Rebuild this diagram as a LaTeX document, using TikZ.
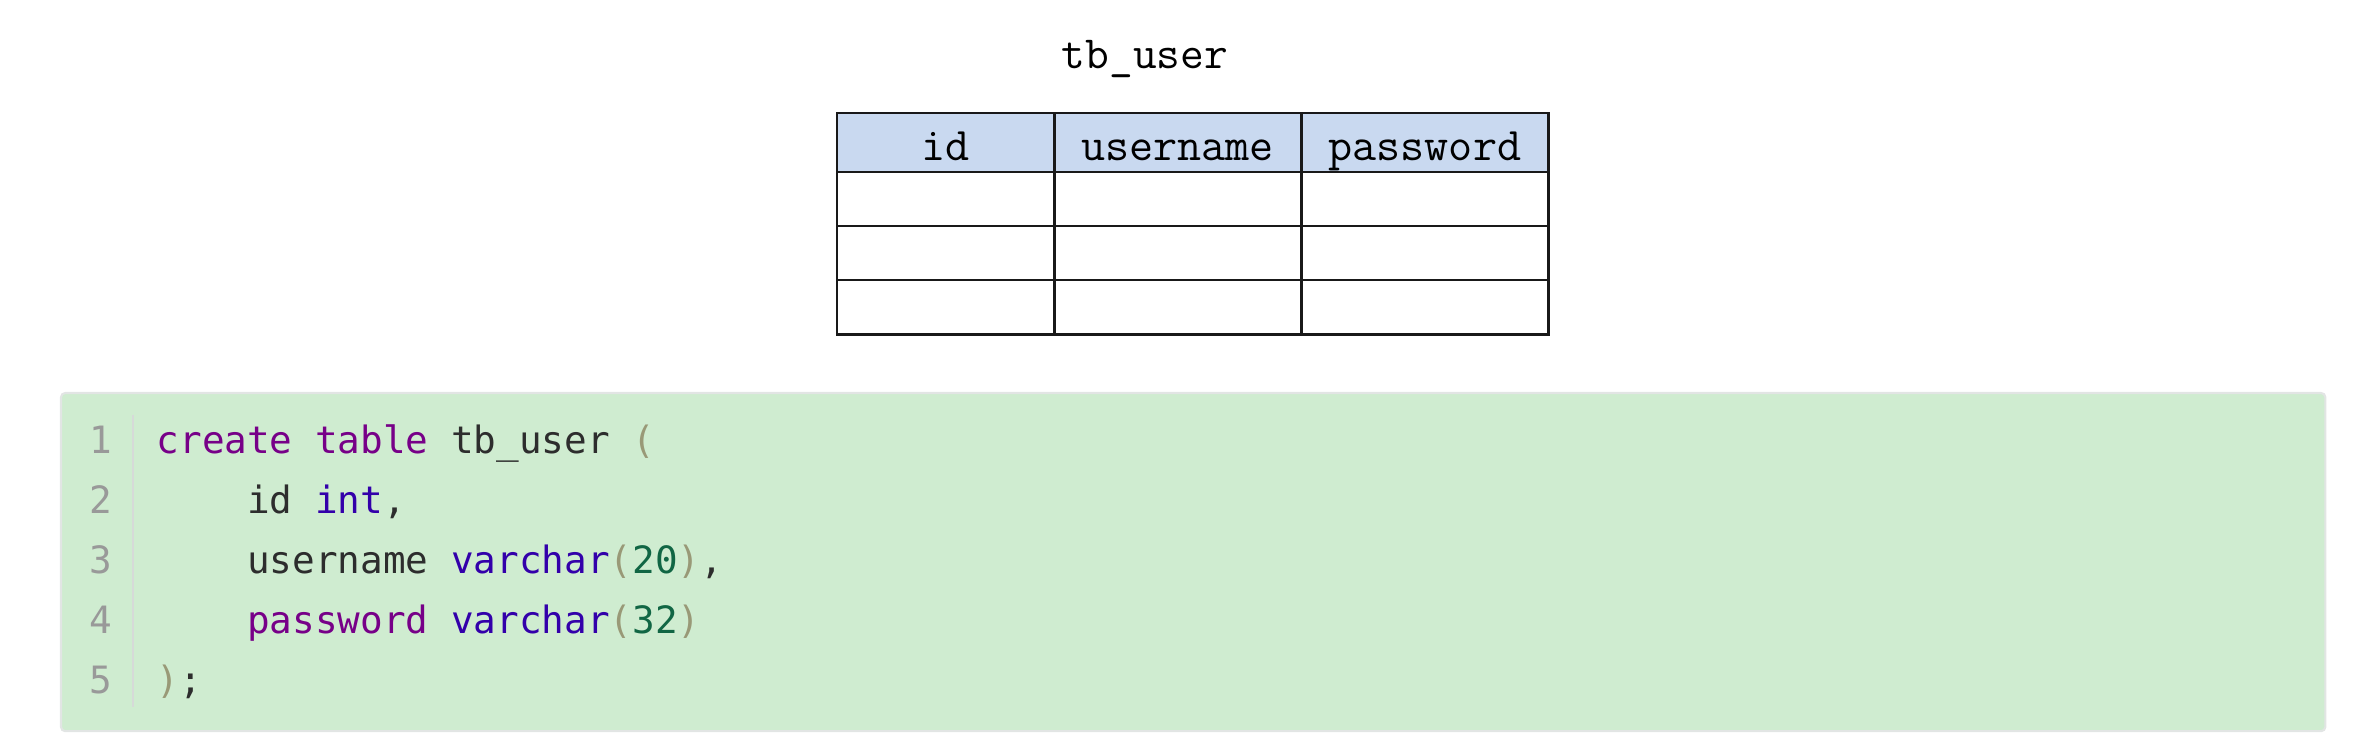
\documentclass[tikz,border=0pt]{standalone}
\usepackage{fontspec}
\newfontfamily\codefont{DejaVu Sans Mono}
\usetikzlibrary{positioning}
\definecolor{headblue}{RGB}{201,217,240}
\definecolor{tableline}{RGB}{25,25,25}
\definecolor{codegreen}{RGB}{207,236,208}
\definecolor{codeborder}{RGB}{226,229,228}
\definecolor{guttergray}{RGB}{214,218,216}
\definecolor{linegray}{RGB}{153,153,153}
\definecolor{codetext}{RGB}{45,45,45}
\definecolor{kwpurple}{RGB}{119,0,136}
\definecolor{bipurple}{RGB}{51,0,170}
\definecolor{numgreen}{RGB}{17,102,68}
\definecolor{brgray}{RGB}{153,153,119}
\newcommand{\sqlkw}[1]{\textcolor{kwpurple}{#1}}
\newcommand{\sqlbi}[1]{\textcolor{bipurple}{#1}}
\newcommand{\sqlnum}[1]{\textcolor{numgreen}{#1}}
\newcommand{\sqlbr}[1]{\textcolor{brgray}{#1}}
\tikzset{head/.style={draw=tableline, fill=headblue, line width=0.8pt, inner sep=0pt, outer sep=0pt,
           minimum height=0.59cm, text height=0.4cm, text depth=0.05cm,
           font=\ttfamily\fontsize{13.3pt}{15pt}\selectfont},
         cell/.style={draw=tableline, line width=0.8pt, inner sep=0pt, outer sep=0pt, minimum height=0.54cm},
         tabtitle/.style={anchor=base, inner sep=0pt, font=\ttfamily\fontsize{13.1pt}{15pt}\selectfont},
         codebox/.style={draw=codeborder, fill=codegreen, line width=0.6pt, rounded corners=1.2pt,
           inner sep=0pt, outer sep=0pt},
         lineno/.style={anchor=base east, inner sep=0pt, text=linegray, font=\codefont\fontsize{10.7pt}{12pt}\selectfont},
         codeline/.style={anchor=base west, inner sep=0pt, text=codetext, font=\codefont\fontsize{10.7pt}{12pt}\selectfont}}

\begin{document}
\begin{tikzpicture}[x=0.01cm, y=0.01cm]
    \useasboundingbox (0,0) rectangle (2358,755);

            % table picture
            \node[tabtitle] (title) at (1145,686) {tb\_user};
            \node[head, minimum width=2.17cm, anchor=north west] (h-id) at (837,642) {id};
            \node[head, minimum width=2.47cm, right=0pt of h-id] (h-user) {username};
            \node[head, minimum width=2.47cm, right=0pt of h-user] (h-pass) {password};

            \foreach \r/\up in {r1/h, r2/r1, r3/r2} {
                \node[cell, minimum width=2.17cm, below=0pt of \up-id] (\r-id) {};
                \node[cell, minimum width=2.47cm, right=0pt of \r-id] (\r-user) {};
                \node[cell, minimum width=2.47cm, right=0pt of \r-user] (\r-pass) {};
            }

            % code block
            \node[codebox, minimum width=22.63cm, minimum height=3.38cm, anchor=north west] (code) at (61,362) {};
            \coordinate (gtop) at (133,340);
            \coordinate (gbot) at (133,48);
            \draw[guttergray, line width=0.5pt] (gtop) -- (gbot);

            \foreach \n in {1,...,5}
                \node[lineno] (n\n) at (113,{301-60*(\n-1)}) {\n};

            \node[codeline] (l1) at (156,301) {\sqlkw{create table} tb\_user \sqlbr{(}};
            \node[codeline] (l2) at (246.6,241) {id \sqlbi{int},};
            \node[codeline] (l3) at (246.6,181) {username \sqlbi{varchar}\sqlbr{(}\sqlnum{20}\sqlbr{)},};
            \node[codeline] (l4) at (246.6,121) {\sqlkw{password} \sqlbi{varchar}\sqlbr{(}\sqlnum{32}\sqlbr{)}};
            \node[codeline] (l5) at (156,61) {\sqlbr{)};};

        \end{tikzpicture}
\end{document}
